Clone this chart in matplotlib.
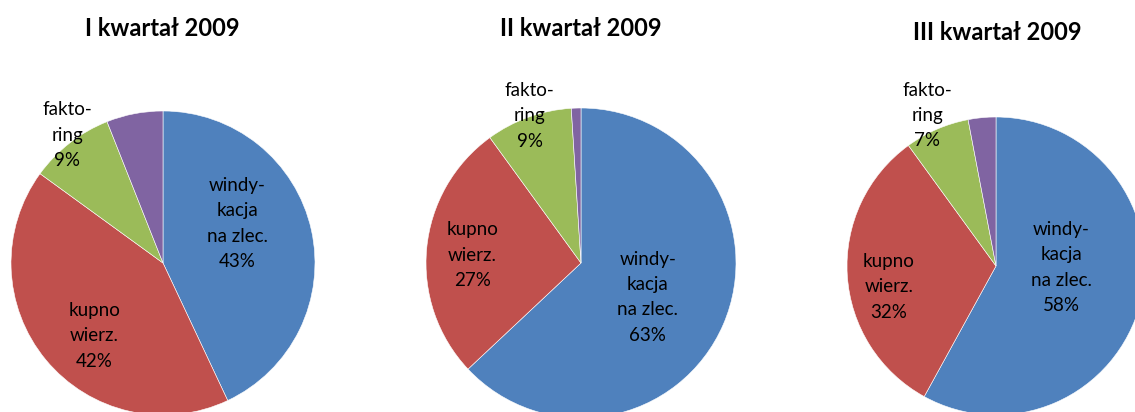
import matplotlib
matplotlib.use('Agg')
import matplotlib.pyplot as plt

# Data
titles = ['I kwartał 2009', 'II kwartał 2009', 'III kwartał 2009']
categories = ['windy-\nkacja\nna zlec.', 'kupno\nwierz.', 'fakto-\nring', 'inne']
shares_q1 = [43, 42, 9, 6]
shares_q2 = [63, 27, 9, 1]
shares_q3 = [58, 32, 7, 3]
all_shares = [shares_q1, shares_q2, shares_q3]

colors = ['#4F81BD', '#C0504D', '#9BBB59', '#8064A2']

# Layout (pixel units, y from top)
W, H = 1135, 412
centers = [(163, 263), (581, 263), (996, 266)]
radii = [152, 155, 149]
title_pos = [(162, 28), (581, 28), (997, 32)]
# label centres relative to pie centre, in radius units (Excel "best fit")
label_offsets = [
    [(0.49, 0.26), (-0.45, -0.48), (-0.63, 0.84)],
    [(0.43, -0.22), (-0.70, 0.05), (-0.33, 0.95)],
    [(0.44, -0.01), (-0.72, -0.14), (-0.46, 1.01)],
]

plt.rcParams['font.family'] = ['Lato', 'DejaVu Sans']

fig = plt.figure(figsize=(W / 100, H / 100), dpi=100)
ax = fig.add_axes([0, 0, 1, 1])

for i, shares in enumerate(all_shares):
    cx, cy = centers[i]
    r = radii[i]
    ax.pie(shares, colors=colors, startangle=90, counterclock=False,
           center=(cx, H - cy), radius=r,
           wedgeprops=dict(edgecolor='white', linewidth=0.4))
    for j in range(3):
        fx, fy = label_offsets[i][j]
        ax.text(cx + fx * r, H - cy + fy * r,
                f'{categories[j]}\n{shares[j]}%',
                ha='center', va='center', fontsize=13.5,
                linespacing=1.6, color='black')
    tx, ty = title_pos[i]
    ax.text(tx, H - ty, titles[i], ha='center', va='center',
            fontsize=17, fontweight='bold', color='black')

ax.set_xlim(0, W)
ax.set_ylim(0, H)
ax.set_aspect('equal')
ax.axis('off')

fig.savefig('out.png', dpi=100, facecolor='white')
